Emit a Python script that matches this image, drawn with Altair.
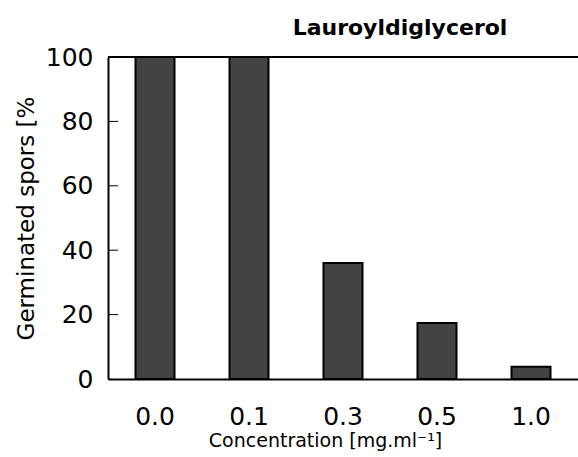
import altair as alt
import pandas as pd

concentrations = ["0.0", "0.1", "0.3", "0.5", "1.0"]
germinated = [100, 100, 36, 17.4, 3.8]
y_ticks = [20, 40, 60, 80]

df = pd.DataFrame({"conc": concentrations, "pct": germinated})
ticks_df = pd.DataFrame({"t": y_ticks})

FONT = "DejaVu Sans"
W, H = 470, 322

bars = alt.Chart(df).mark_bar(
    fill="#434343", stroke="black", strokeWidth=2
).encode(
    x=alt.X("conc:N", sort=concentrations,
            scale=alt.Scale(paddingInner=0.585, paddingOuter=0.2925),
            axis=alt.Axis(title="Concentration [mg.ml⁻¹]", labelAngle=0,
                          labelFontSize=25, labelFont=FONT, labelColor="black",
                          titleFont=FONT, titleFontSize=19, titleFontWeight="normal",
                          titleColor="black", titlePadding=2,
                          titleX=217, titleAlign="center",
                          ticks=False, labelPadding=25,
                          domainColor="black", domainWidth=2)),
    y=alt.Y("pct:Q", scale=alt.Scale(domain=[0, 100], nice=False),
            axis=alt.Axis(title="Germinated spors [%", values=[0, 20, 40, 60, 80, 100],
                          labelFontSize=25, labelFont=FONT, labelColor="black",
                          titleFont=FONT, titleFontSize=23, titleFontWeight="normal",
                          titleColor="black", titlePadding=7,
                          ticks=False, labelPadding=15, grid=False,
                          domainColor="black", domainWidth=2)),
)

tick_rules = alt.Chart(ticks_df).mark_rule(color="black", strokeWidth=1).encode(
    x=alt.value(0), x2=alt.value(10), y=alt.Y("t:Q")
)

top_line = alt.Chart(ticks_df).mark_rule(color="black", strokeWidth=2).encode(
    x=alt.value(0), x2=alt.value(W), y=alt.value(0)
)

chart = alt.layer(bars, tick_rules, top_line).properties(
    width=W, height=H,
    title=alt.TitleParams("Lauroyldiglycerol", font=FONT, fontSize=22,
                          fontWeight="bold", color="black", anchor="middle",
                          dx=57, offset=5),
    autosize=alt.AutoSizeParams(type="none"),
    padding={"left": 108, "top": 57, "right": 0, "bottom": 78},
).configure(
    background="white",
    view=alt.ViewConfig(strokeWidth=0),
)

chart.save("out.html", embed_options={"renderer": "svg", "actions": False})
